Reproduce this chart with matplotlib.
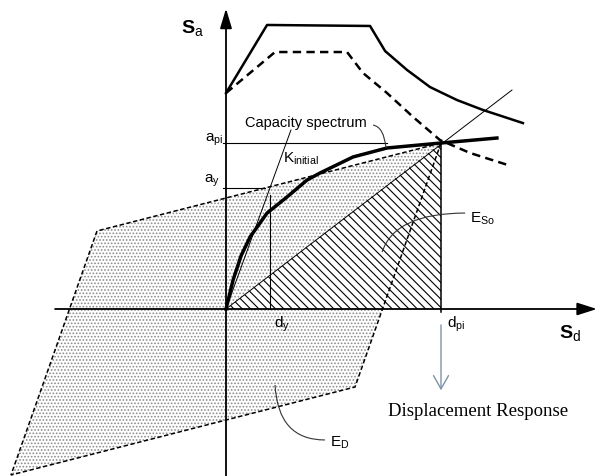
import matplotlib
matplotlib.use("Agg")
import matplotlib.pyplot as plt
from matplotlib.patches import Polygon, FancyArrowPatch, PathPatch
from matplotlib.path import Path

# key points of the capacity spectrum (normalised: d_pi = a_pi = 1)
D_Y = 0.205
A_Y = 0.729
D_PI = 1.0
A_PI = 1.0

# capacity spectrum curve
CAP_SD = [0.0, 0.033, 0.070, 0.112, 0.191, 0.284, 0.377, 0.437, 0.591, 0.749, 1.0, 1.26]
CAP_SA = [0.0, 0.175, 0.320, 0.434, 0.578, 0.675, 0.777, 0.819, 0.916, 0.970, 1.0, 1.03]

# elastic demand spectrum (solid) and reduced demand spectrum (dashed)
DEM_SD = [0.0, 0.191, 0.670, 0.740, 0.842, 0.949, 1.074, 1.195, 1.381]
DEM_SA = [1.301, 1.711, 1.705, 1.554, 1.440, 1.337, 1.259, 1.199, 1.120]
RED_SD = [0.0, 0.228, 0.563, 0.637, 0.749, 0.870, 0.995, 1.135, 1.312]
RED_SA = [1.301, 1.548, 1.548, 1.422, 1.301, 1.157, 1.018, 0.940, 0.867]

# hysteresis loop (E_D) corners
LOOP_SD = [1.0, 0.60, -1.0, -0.60]
LOOP_SA = [1.0, -0.47, -1.0, 0.47]

# initial stiffness line and secant line end points
K_INIT = (0.302, 1.078)
SECANT = (1.33, 1.319)

plt.rcParams['font.family'] = ['Liberation Sans', 'DejaVu Sans']
plt.rcParams['mathtext.fontset'] = 'custom'
plt.rcParams['mathtext.rm'] = 'Liberation Sans'
plt.rcParams['mathtext.it'] = 'Liberation Sans:italic'
plt.rcParams['mathtext.bf'] = 'Liberation Sans:bold'
plt.rcParams['lines.scale_dashes'] = False
plt.rcParams['hatch.linewidth'] = 0.8


def leader(ax, p0, ctrl, p1, color='#333333'):
    path = Path([p0, ctrl, p1], [Path.MOVETO, Path.CURVE3, Path.CURVE3])
    ax.add_patch(PathPatch(path, fill=False, edgecolor=color, lw=0.8, zorder=6))


fig = plt.figure(figsize=(5.97, 4.76), dpi=100)
ax = fig.add_axes([0, 0, 1, 1])
ax.set_xlim(-226 / 215, 371 / 215)
ax.set_ylim(-167 / 166, 309 / 166)
ax.axis('off')

# E_D: dotted hysteresis area
loop = list(zip(LOOP_SD, LOOP_SA))
ax.add_patch(Polygon(loop, closed=True, facecolor='white', edgecolor='#8c8c8c',
                     hatch='.....', lw=0, zorder=1))
# E_So: hatched triangle
tri = [(0, 0), (D_PI, 0), (D_PI, A_PI)]
ax.add_patch(Polygon(tri, closed=True, facecolor='white', edgecolor='black',
                     hatch='\\\\\\\\', lw=0, zorder=2))
ax.add_patch(Polygon(loop, closed=True, fill=False, edgecolor='black', lw=1.1,
                     linestyle=(0, (3.2, 1.8)), zorder=3))

# axes with arrows
ax.add_patch(FancyArrowPatch((-0.795, 0), (1.725, 0), arrowstyle='-|>,head_length=1.0,head_width=0.32',
                             mutation_scale=12, lw=1.3, color='black', shrinkA=0, shrinkB=0, zorder=5))
ax.add_patch(FancyArrowPatch((0, -1.01), (0, 1.81), arrowstyle='-|>,head_length=1.0,head_width=0.3',
                             mutation_scale=12, lw=1.3, color='black', shrinkA=0, shrinkB=0, zorder=5))

# helper lines
ax.plot([-0.014, 0.75], [A_PI, A_PI], color='black', lw=0.8, zorder=4)
ax.plot([-0.014, 0.18], [A_Y, A_Y], color='black', lw=0.8, zorder=4)
ax.plot([D_Y, D_Y], [0, 0.687], color='black', lw=0.8, zorder=4)
ax.plot([D_PI, D_PI], [-0.02, A_PI], color='black', lw=1.1, zorder=4)
ax.plot([0, K_INIT[0]], [0, K_INIT[1]], color='black', lw=0.7, zorder=4)
ax.plot([0, SECANT[0]], [0, SECANT[1]], color='black', lw=0.7, zorder=4)

# spectra
ax.plot(CAP_SD, CAP_SA, color='black', lw=2.5, solid_joinstyle='round', zorder=6)
ax.plot(DEM_SD, DEM_SA, color='black', lw=1.8, zorder=6)
ax.plot(RED_SD, RED_SA, color='black', lw=1.8, linestyle=(0, (6, 3.8)), zorder=6)

# labels
ax.text(-0.158, 1.693, r'$\mathbf{S}_\mathrm{a}$', fontsize=14, ha='center', va='center')
ax.text(1.60, -0.145, r'$\mathbf{S}_\mathrm{d}$', fontsize=14, ha='center', va='center')
ax.text(-0.012, 1.006, r'$\mathrm{a_{pi}}$', fontsize=11, ha='right', va='baseline')
ax.text(-0.03, 0.759, r'$\mathrm{a_{y}}$', fontsize=11, ha='right', va='baseline')
ax.text(0.223, -0.036, r'$\mathrm{d_{y}}$', fontsize=11, ha='left', va='top')
ax.text(1.028, -0.036, r'$\mathrm{d_{pi}}$', fontsize=11, ha='left', va='top')
ax.text(0.265, 0.88, r'$\mathrm{K_{initial}}$', fontsize=11, ha='left', va='baseline')
ax.text(0.088, 1.096, 'Capacity spectrum', fontsize=10.5, ha='left', va='baseline')
ax.text(1.135, 0.518, r'$\mathrm{E_{So}}$', fontsize=11, ha='left', va='baseline')
ax.text(0.484, -0.831, r'$\mathrm{E_{D}}$', fontsize=11, ha='left', va='baseline')
ax.text(0.753, -0.645, 'Displacement Response', fontsize=13.5, ha='left', va='baseline',
        family=['Liberation Serif', 'DejaVu Serif'])

# leaders
leader(ax, (0.684, 1.108), (0.735, 1.096), (0.744, 0.970))
leader(ax, (1.112, 0.578), (0.786, 0.578), (0.726, 0.343))
leader(ax, (0.228, -0.458), (0.242, -0.789), (0.460, -0.789))

# displacement response arrow
ax.add_patch(FancyArrowPatch((D_PI, -0.096), (D_PI, -0.49), arrowstyle='->,head_length=0.8,head_width=0.45',
                             mutation_scale=12, lw=1.0, color='#7f93a8', shrinkA=0, shrinkB=0, zorder=5))

fig.savefig('out.png', dpi=100)
